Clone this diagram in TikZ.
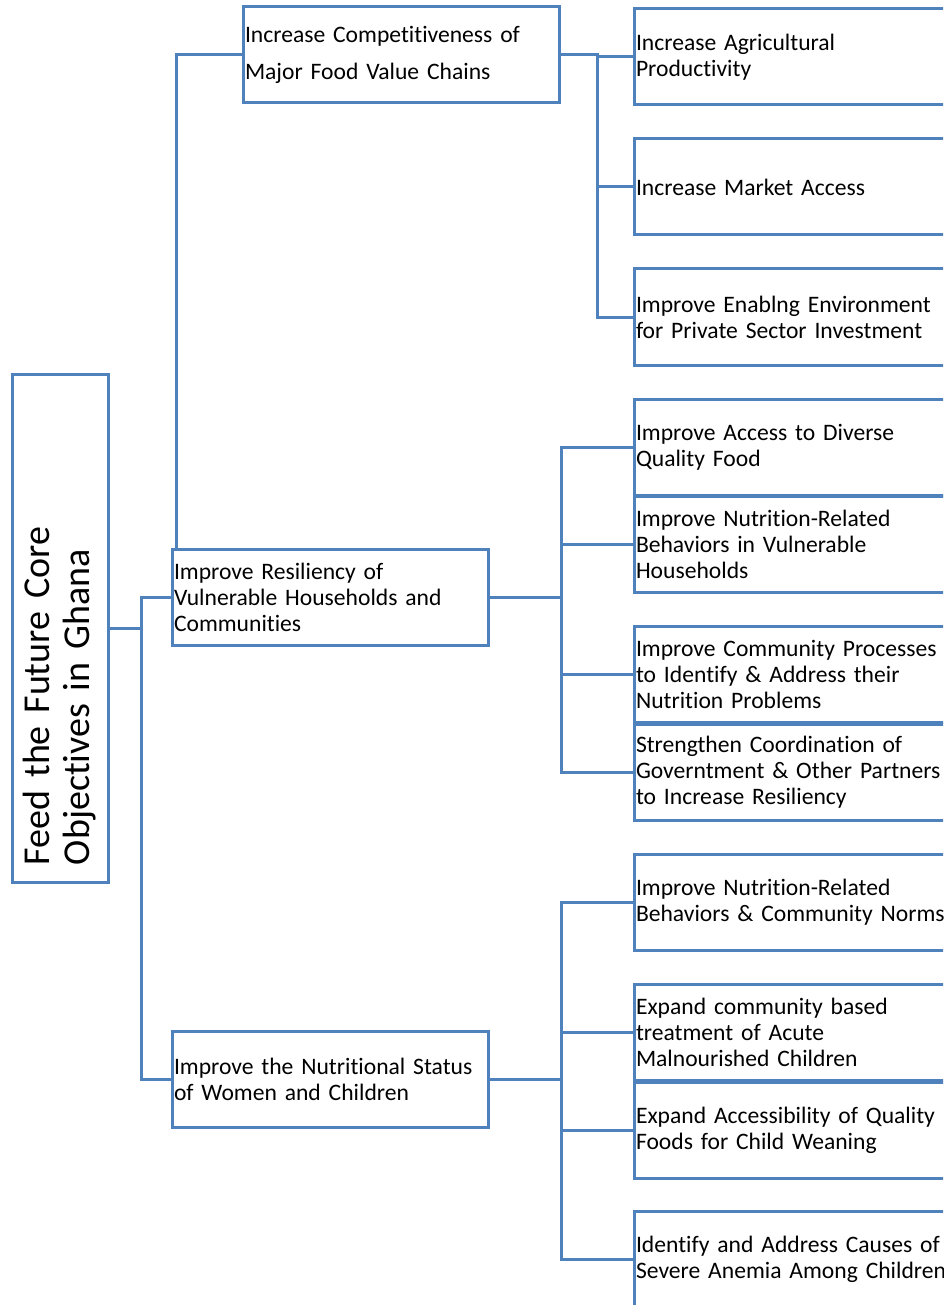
\documentclass[tikz,border=0pt]{standalone}
\usepackage{fontspec}
\setmainfont{Carlito}[Ligatures=NoCommon]
\usetikzlibrary{positioning}
\definecolor{linkblue}{RGB}{79,129,189}

\begin{document}
\begin{tikzpicture}[
        x=1pt, y=-1pt,
        box/.style={rectangle, draw=linkblue, line width=3pt, outer sep=0pt, minimum height=96pt, inner ysep=0pt, align=left, font=\fontsize{23.6}{26}\selectfont},
        mid/.style={box, text width=312pt, inner xsep=2pt},
        sub/.style={box, text width=330pt, inner xsep=2pt},
        conn/.style={draw=linkblue, line width=3pt},
        node distance=34pt
    ]

    \useasboundingbox (0,0) rectangle (943,1305);
    \clip (0,0) rectangle (943,1305);

    \node[box, rotate=90, minimum width=508pt, text width=474pt, inner xsep=17pt, font=\fontsize{38}{40}\selectfont] (root) at (60,628) {Feed the Future Core\\Objectives in Ghana};

    \node[mid, font=\fontsize{23.6}{37}\selectfont] (chain) at (401,55) {Increase Competitiveness of\\Major Food Value Chains};
    \node[mid] (resil) at (330,597) {Improve Resiliency of\\Vulnerable Households and\\Communities};
    \node[mid] (nutri) at (330,1079) {Improve the Nutritional Status\\of Women and Children};

    \node[sub, anchor=west] (prod) at (634,57) {Increase Agricultural\\Productivity};
    \node[sub, below=of prod] (market) {Increase Market Access};
    \node[sub, below=of market] (enable) {Improve Enablng Environment\\for Private Sector Investment};

    \node[sub, anchor=west] (access) at (634,447) {Improve Access to Diverse\\Quality Food};
    \node[sub, below=1pt of access] (behav) {Improve Nutrition-Related\\Behaviors in Vulnerable\\Households};
    \node[sub, below=of behav] (commun) {Improve Community Processes\\to Identify \& Address their\\Nutrition Problems};
    \node[sub, below=2pt of commun] (coord) {Strengthen Coordination of\\Governtment \& Other Partners\\to Increase Resiliency};

    \node[sub, anchor=west] (norms) at (634,902) {Improve Nutrition-Related\\Behaviors \& Community Norms};
    \node[sub, below=of norms] (treat) {Expand community based\\treatment of Acute\\Malnourished Children};
    \node[sub, below=2pt of treat] (wean) {Expand Accessibility of Quality\\Foods for Child Weaning};
    \node[sub, below=33pt of wean] (anemia) {Identify and Address Causes of\\Severe Anemia Among Children};

    \coordinate (busR) at (141,0);
    \coordinate (busA) at (597,0);
    \coordinate (busB) at (561,0);

    \foreach \n in {resil,nutri}
        \draw[conn] (root.south) -- (root.south -| busR) |- (\n.west);
    \draw[conn] ([xshift=4pt]resil.north west) |- (chain.west);

    \foreach \n in {prod,market,enable}
        \draw[conn] (chain.east) -- (chain.east -| busA) |- (\n.west);
    \foreach \n in {access,behav,commun,coord}
        \draw[conn] (resil.east) -- (resil.east -| busB) |- (\n.west);
    \foreach \n in {norms,treat,wean,anemia}
        \draw[conn] (nutri.east) -- (nutri.east -| busB) |- (\n.west);

\end{tikzpicture}
\end{document}
